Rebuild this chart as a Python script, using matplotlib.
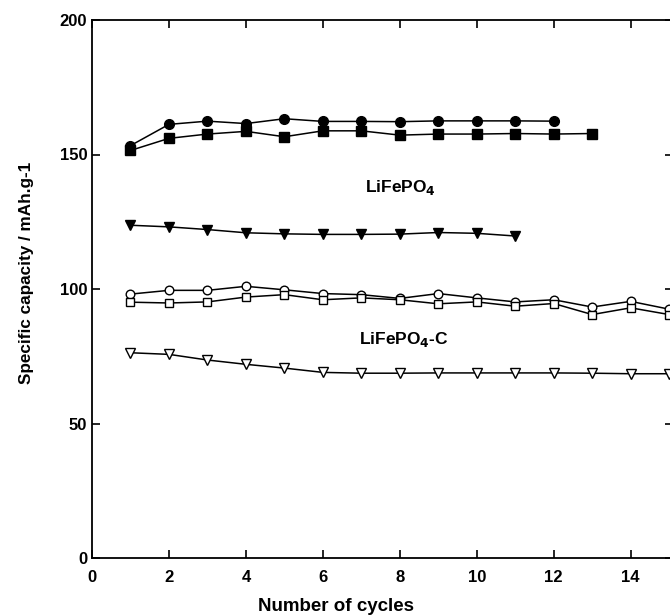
import numpy as np
import matplotlib.pyplot as plt

plt.rcParams['font.family'] = ['Liberation Sans', 'DejaVu Sans']
plt.rcParams['font.weight'] = 'bold'

# data
cycles_a = [1, 2, 3, 4, 5, 6, 7, 8, 9, 10, 11, 12]
lfp_circle = [153.3, 161.2, 162.4, 161.5, 163.3, 162.3, 162.3, 162.2, 162.5, 162.5, 162.5, 162.4]

cycles_b = [1, 2, 3, 4, 5, 6, 7, 8, 9, 10, 11, 12, 13]
lfp_square = [151.5, 156.0, 157.6, 158.6, 156.6, 158.8, 158.8, 157.2, 157.6, 157.6, 157.8, 157.6, 157.8]

cycles_c = [1, 2, 3, 4, 5, 6, 7, 8, 9, 10, 11]
lfp_tri = [123.7, 123.1, 122.1, 120.9, 120.5, 120.3, 120.3, 120.4, 121.0, 120.7, 119.7]

cycles_d = [1, 2, 3, 4, 5, 6, 7, 8, 9, 10, 11, 12, 13, 14, 15]
lfpc_circle = [98.1, 99.5, 99.5, 101.0, 99.7, 98.3, 97.9, 96.5, 98.3, 96.7, 95.2, 96.0, 93.3, 95.4, 92.5]
lfpc_square = [95.1, 94.8, 95.2, 97.0, 97.9, 96.0, 96.7, 96.0, 94.5, 95.2, 93.6, 94.6, 90.5, 93.0, 90.5]
lfpc_tri = [76.3, 75.7, 73.6, 72.0, 70.6, 69.0, 68.7, 68.7, 68.8, 68.8, 68.8, 68.8, 68.7, 68.5, 68.5]

fig = plt.figure(figsize=(6.7, 6.15), dpi=100)
ax = fig.add_axes([92/670, 57/615, 581/670, 538/615])

lw = 1.1
ax.plot(cycles_a, lfp_circle, 'k-', marker='o', ms=7, lw=lw)
ax.plot(cycles_b, lfp_square, 'k-', marker='s', ms=7, lw=lw)
ax.plot(cycles_c, lfp_tri, 'k-', marker='v', ms=7.5, lw=lw)
ax.plot(cycles_d, lfpc_circle, 'k-', marker='o', ms=6.2, lw=lw, mfc='white', mew=1)
ax.plot(cycles_d, lfpc_square, 'k-', marker='s', ms=6.2, lw=lw, mfc='white', mew=1)
ax.plot(cycles_d, lfpc_tri, 'k-', marker='v', ms=6.5, lw=lw, mfc='white', mew=1)

ax.text(7.1, 137.8, 'LiFePO$_\\mathbf{4}$', fontsize=12.5, fontweight='bold', va='center')
ax.text(6.95, 81.3, 'LiFePO$_\\mathbf{4}$-C', fontsize=12.5, fontweight='bold', va='center')

ax.set_xlim(0, 15.1)
ax.set_ylim(0, 200)
ax.set_xticks(np.arange(0, 15, 2))
ax.set_yticks([0, 50, 100, 150, 200])
ax.tick_params(direction='in', top=True, right=True, length=6, width=1.2, labelsize=12)
ax.tick_params(axis='x', pad=9)
for sp in ax.spines.values():
    sp.set_linewidth(1.3)

ax.set_xlabel('Number of cycles', fontsize=13.5, fontweight='bold')
ax.xaxis.set_label_coords(0.42, -0.075)
ax.set_ylabel('Specific capacity / mAh.g-1', fontsize=12.3, fontweight='bold')
ax.yaxis.set_label_coords(-0.10, 0.53)

plt.savefig('out.png', dpi=100)
